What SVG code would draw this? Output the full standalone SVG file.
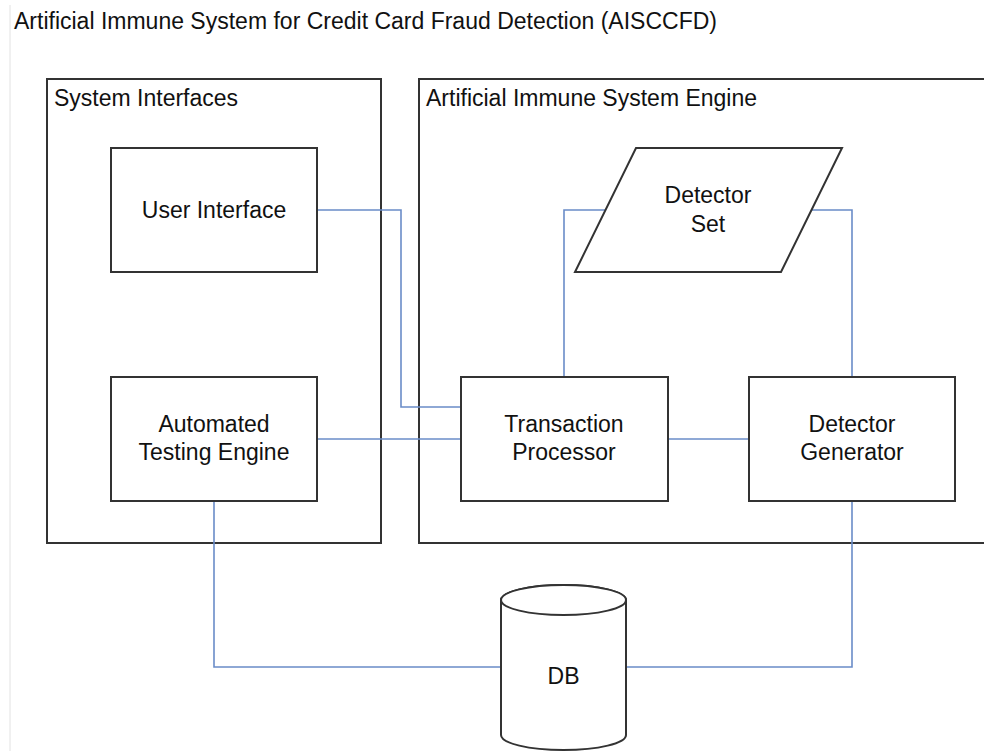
<svg xmlns="http://www.w3.org/2000/svg" width="984" height="751" viewBox="0 0 984 751">
<style>
text{font-family:"Liberation Sans",Arial,sans-serif;fill:#111;}
.t{font-size:23px;}
.l{font-size:23px;}
.n{font-size:23px;text-anchor:middle;}
.box{fill:#fff;stroke:#333;stroke-width:2;}
.cont{fill:none;stroke:#333;stroke-width:2;}
.c{fill:none;stroke:#6a8cc8;stroke-width:1.6;}
</style>
<rect width="984" height="751" fill="#fff"/>
<line x1="10" y1="5" x2="10" y2="751" stroke="#e2e2e2" stroke-width="1"/>
<text class="t" x="14" y="29">Artificial Immune System for Credit Card Fraud Detection (AISCCFD)</text>
<g id="system-interfaces">
<rect class="cont" x="47" y="79" width="334" height="464"/>
<text class="l" x="54" y="106">System Interfaces</text>
</g>
<g id="ais-engine">
<rect class="cont" x="419" y="79" width="600" height="464"/>
<text class="l" x="426" y="106">Artificial Immune System Engine</text>
</g>
<g id="connectors">
<polyline class="c" points="317,210 401,210 401,407 461,407"/>
<line class="c" x1="317" y1="439" x2="461" y2="439"/>
<line class="c" x1="668" y1="439" x2="749" y2="439"/>
<polyline class="c" points="564,377 564,210 605,210"/>
<polyline class="c" points="811,210 852,210 852,377"/>
<polyline class="c" points="214,501 214,667 501,667"/>
<polyline class="c" points="852,501 852,667 626,667"/>
</g>
<g id="user-interface">
<rect class="box" x="111" y="148" width="206" height="124"/>
<text class="n" x="214" y="218">User Interface</text>
</g>
<g id="automated-testing-engine">
<rect class="box" x="111" y="377" width="206" height="124"/>
<text class="n" x="214" y="432">Automated</text>
<text class="n" x="214" y="460">Testing Engine</text>
</g>
<g id="detector-set">
<polygon class="box" points="636,148 842,148 781,272 575,272"/>
<text class="n" x="708" y="203">Detector</text>
<text class="n" x="708" y="232">Set</text>
</g>
<g id="transaction-processor">
<rect class="box" x="461" y="377" width="207" height="124"/>
<text class="n" x="564" y="432">Transaction</text>
<text class="n" x="564" y="460">Processor</text>
</g>
<g id="detector-generator">
<rect class="box" x="749" y="377" width="206" height="124"/>
<text class="n" x="852" y="432">Detector</text>
<text class="n" x="852" y="460">Generator</text>
</g>
<g id="db">
<path class="box" d="M501,600 L501,735 A62.5,15 0 0 0 626,735 L626,600 A62.5,15 0 0 0 501,600 Z"/>
<ellipse class="box" cx="563.5" cy="600" rx="62.5" ry="15"/>
<text class="n" x="563.5" y="684">DB</text>
</g>
</svg>
